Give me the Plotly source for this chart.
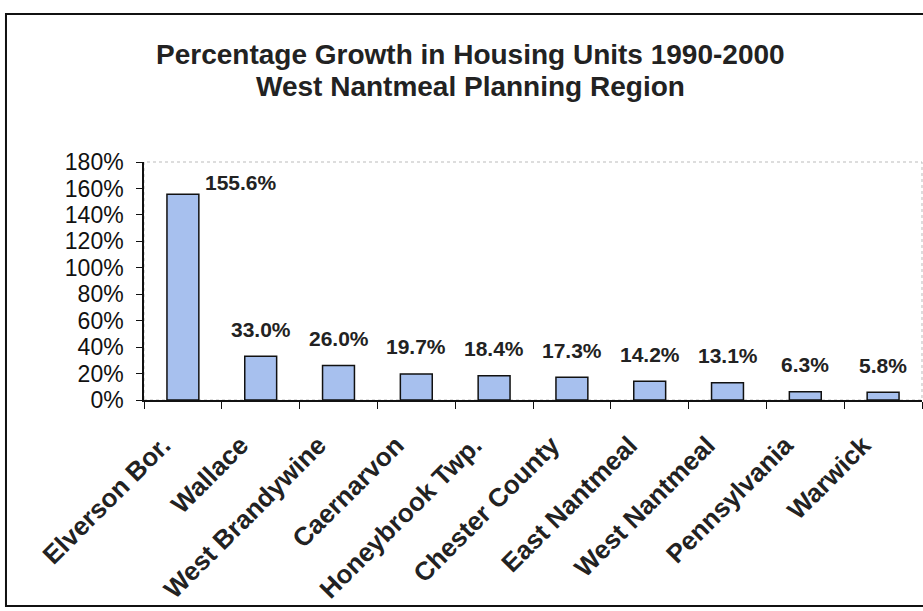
import plotly.graph_objects as go

categories = ["Elverson Bor.", "Wallace", "West Brandywine", "Caernarvon", "Honeybrook Twp.",
              "Chester County", "East Nantmeal", "West Nantmeal", "Pennsylvania", "Warwick"]
growth = [155.6, 33.0, 26.0, 19.7, 18.4, 17.3, 14.2, 13.1, 6.3, 5.8]
tick_vals = [0, 20, 40, 60, 80, 100, 120, 140, 160, 180]
tick_text = [f"{v}%" for v in tick_vals]
title_lines = ["Percentage Growth in Housing Units 1990-2000", "West Nantmeal Planning Region"]

FONT = "Liberation Sans, Arial, sans-serif"

fig = go.Figure()
fig.add_trace(go.Bar(
    x=categories, y=growth, width=0.41,
    marker=dict(color="#A7C0EE", line=dict(color="#111111", width=1.5)),
    hoverinfo="x+y",
))

annotations = []
for i, (c, v) in enumerate(zip(categories, growth)):
    if i == 0:
        annotations.append(dict(x=c, y=v, xref="x", yref="y", text=f"<b>{v:.1f}%</b>",
                                showarrow=False, xshift=58, yshift=12, yanchor="middle",
                                font=dict(family=FONT, size=21, color="#222222")))
    else:
        annotations.append(dict(x=c, y=v, xref="x", yref="y", text=f"<b>{v:.1f}%</b>",
                                showarrow=False, yshift=27, yanchor="middle",
                                font=dict(family=FONT, size=21, color="#222222")))

# title lines (paper coords relative to plot area)
for line, ypos in zip(title_lines, [1.4496, 1.3193]):
    annotations.append(dict(x=0.4203, y=ypos, xref="paper", yref="paper", text=f"<b>{line}</b>",
                            showarrow=False, xanchor="center", yanchor="middle",
                            font=dict(family=FONT, size=28, color="#222222")))

fig.update_layout(
    width=923, height=611,
    margin=dict(l=144, r=1, t=162, b=211),
    paper_bgcolor="white", plot_bgcolor="white",
    showlegend=False,
    annotations=annotations,
    font=dict(family=FONT, color="#111111"),
    shapes=[
        dict(type="rect", xref="paper", yref="paper", x0=-0.1774, x1=1.05, y0=-0.8655, y1=1.622,
             line=dict(color="#111111", width=2), layer="below"),
        dict(type="rect", xref="paper", yref="paper", x0=0, x1=1, y0=0, y1=1,
             line=dict(color="#BBBBBB", width=1, dash="dot"), layer="below"),
    ],
)
fig.update_yaxes(range=[0, 180], tickvals=tick_vals, ticktext=tick_text,
                 showgrid=False, zeroline=False, showline=True, linecolor="#111111", linewidth=1.5,
                 ticks="outside", ticklen=6, tickcolor="#111111", ticklabelstandoff=8,
                 tickfont=dict(family=FONT, size=23, color="#111111"))
fig.update_xaxes(showgrid=False, showline=True, linecolor="#111111", linewidth=1.5,
                 ticks="outside", tickson="boundaries", ticklen=7, tickcolor="#111111",
                 tickangle=-45, ticklabelstandoff=18, ticklabelshift=-20,
                 tickfont=dict(family=FONT, size=26, color="#222222", weight="bold"))

fig.write_html("out.html")
